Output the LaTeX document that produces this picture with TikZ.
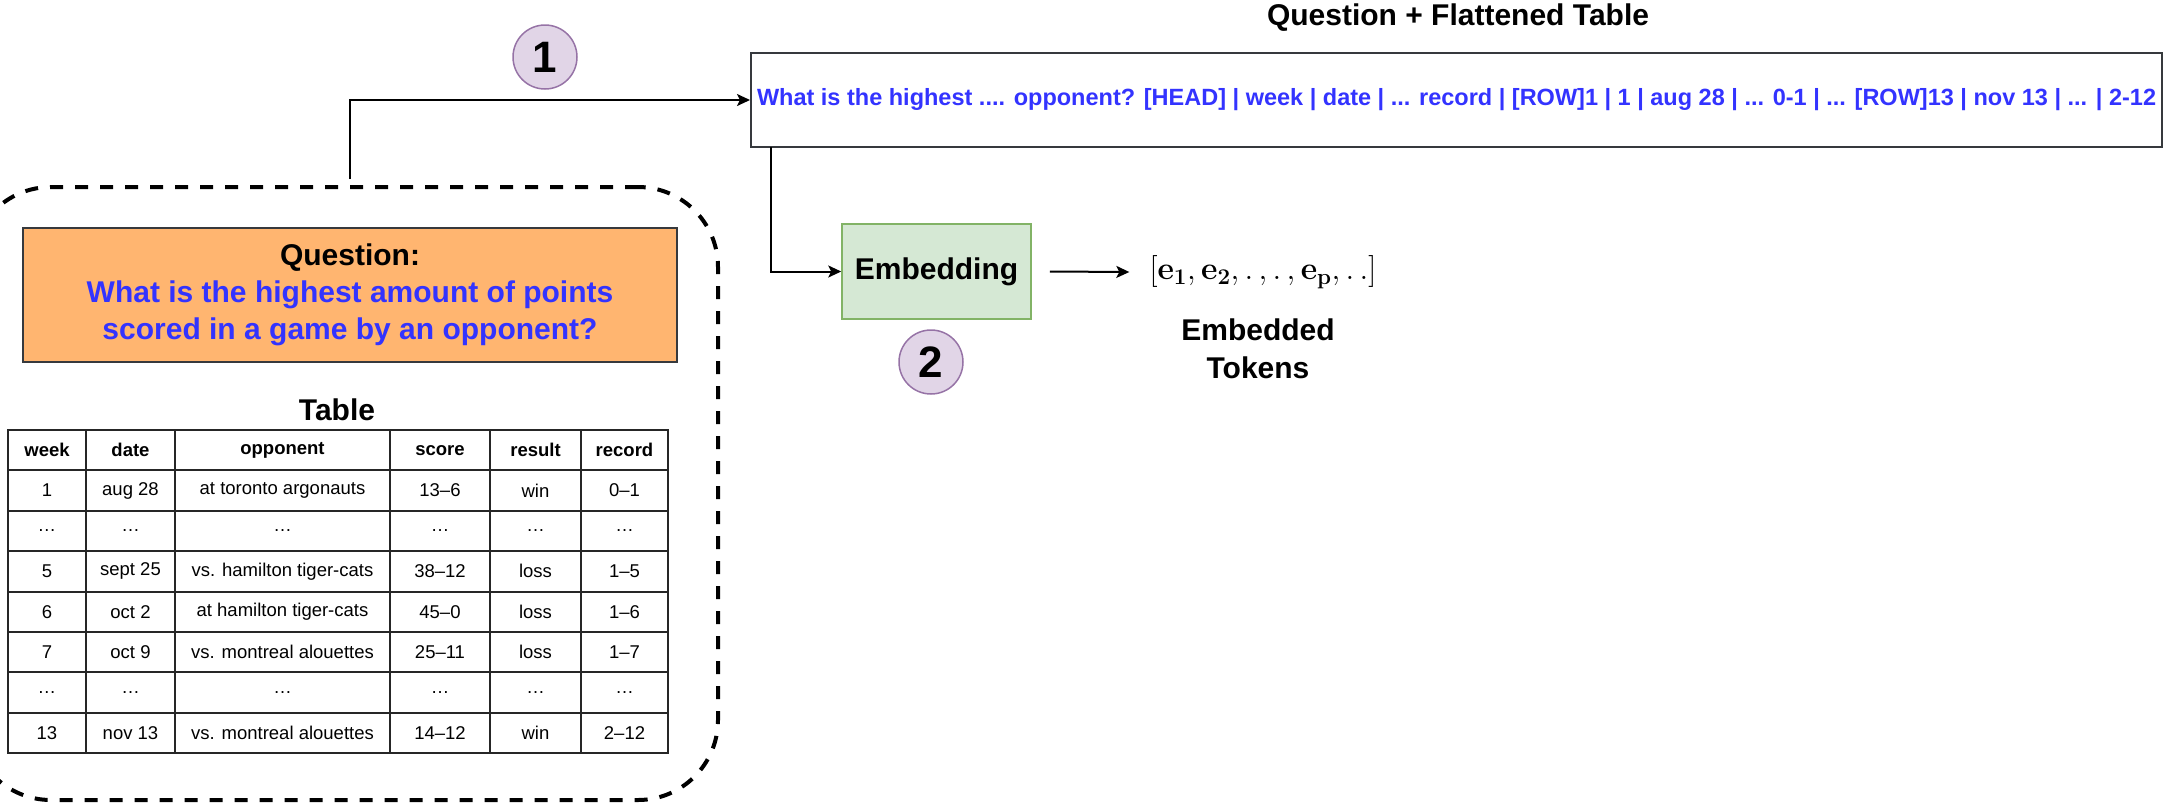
\RequirePackage{fix-cm}
\documentclass[tikz,border=0pt]{standalone}
\usepackage[no-math]{fontspec}
\setmainfont{Liberation Sans}
\usetikzlibrary{arrows.meta}
\definecolor{textblue}{HTML}{3333FF}
\definecolor{quesfill}{HTML}{FFB570}
\definecolor{boxline}{HTML}{36393D}
\definecolor{embfill}{HTML}{D5E8D4}
\definecolor{embline}{HTML}{82B366}
\definecolor{stepfill}{HTML}{E1D5E7}
\definecolor{stepline}{HTML}{9673A6}
\newcommand{\pxfont}[2]{\fontsize{#1}{#2}\selectfont}
\begin{document}
\begin{tikzpicture}[x=1pt,y=1pt]
\tikzstyle{every node}+=[inner sep=0pt]
\tikzset{
  arr/.style={black,line width=2pt,-{Stealth[length=13pt,width=12pt,inset=3pt]}},
  boldtext/.style={font=\bfseries\pxfont{30}{38},align=center},
  grpbox/.style={draw=black,line width=4pt,dash pattern=on 13pt off 12pt,rounded corners=80pt},
  quesbox/.style={draw=boxline,fill=quesfill,line width=1.5pt,font=\bfseries\pxfont{30}{37},align=center},
  flatbox/.style={draw=boxline,fill=white,line width=2pt,font=\bfseries\pxfont{23.5}{28},text=textblue},
  embbox/.style={draw=embline,fill=embfill,line width=1.5pt,font=\bfseries\pxfont{30}{30}},
  stepnum/.style={circle,draw=stepline,fill=stepfill,line width=1.5pt,minimum size=64pt,font=\bfseries\pxfont{44}{44}},
  tabline/.style={draw=black!85,line width=2pt,line cap=rect},
  tabcell/.style={font=\pxfont{18.5}{18.5}}
}
\useasboundingbox (0,0) rectangle (2164,-807);

% question and table group
\node[grpbox,minimum width=747pt,minimum height=613pt] (grp) at (344.5,-493.5) {};
\node[quesbox,minimum width=654pt,minimum height=134pt] (ques) at (350,-295)
  {Question:\\\textcolor{textblue}{What is the highest amount of points}\\\textcolor{textblue}{scored in a game by an opponent?}};

% table
\node[boldtext] (tabtitle) at (337,-410) {Table};
\foreach \x in {8,86,175,390,490,581,668}
  \draw[tabline] (\x,-430) -- (\x,-753);
\foreach \i in {0,...,8}
  \draw[tabline] (8,{-430-40.375*\i}) -- (668,{-430-40.375*\i});
\foreach \x/\t [count=\c] in {47/week,130.5/date,282.5/opponent,440/score,535.5/result,624.5/record}
  \node[tabcell,font=\bfseries\pxfont{18.5}{18.5}] (h\c) at (\x,-450.2) {\t};
\foreach \r/\a/\b/\cc/\d/\e/\f in {1/1/aug 28/at toronto argonauts/13–6/win/0–1,
    2/…/…/…/…/…/…,
    3/5/sept 25/vs. hamilton tiger-cats/38–12/loss/1–5,
    4/6/oct 2/at hamilton tiger-cats/45–0/loss/1–6,
    5/7/oct 9/vs. montreal alouettes/25–11/loss/1–7,
    6/…/…/…/…/…/…,
    7/13/nov 13/vs. montreal alouettes/14–12/win/2–12} {
  \node[tabcell] (r\r-1) at (47,{-450.2-40.375*\r}) {\a};
  \node[tabcell] (r\r-2) at (130.5,{-450.2-40.375*\r}) {\b};
  \node[tabcell] (r\r-3) at (282.5,{-450.2-40.375*\r}) {\cc};
  \node[tabcell] (r\r-4) at (440,{-450.2-40.375*\r}) {\d};
  \node[tabcell] (r\r-5) at (535.5,{-450.2-40.375*\r}) {\e};
  \node[tabcell] (r\r-6) at (624.5,{-450.2-40.375*\r}) {\f};
}

% flattened input
\node[boldtext] (flattitle) at (1458,-18) {Question + Flattened Table};
\node[flatbox,minimum width=1411pt,minimum height=94pt] (flat) at (1456.5,-100)
  {What is the highest .... opponent? [HEAD] | week | date | ... record | [ROW]1 | 1 | aug 28 | ... 0-1 | ... [ROW]13 | nov 13 | ... | 2-12};
\node[stepnum] (s1) at (545,-57) {1};

% embedding
\node[embbox,minimum width=189pt,minimum height=95pt] (emb) at (936.5,-271.5) {Embedding};
\node[stepnum] (s2) at (931,-362) {2};
\node (tok) at (1263,-272)
  {\pxfont{32}{32}$[\mathbf{e}_\mathbf{1}, \mathbf{e}_\mathbf{2}, \mathbf{.}\,, \mathbf{.}\,, \mathbf{e}_\mathbf{p}, \mathbf{.\,.}]$};
\node[boldtext] (toklbl) at (1258,-349) {Embedded\\Tokens};

% connectors
\coordinate (qout) at (350,-179);
\draw[arr] (qout) |- (flat.west);
\coordinate (flatdrop) at (771,-147);
\draw[arr] (flatdrop) |- (emb.west);
\draw[arr] ([xshift=18pt]emb.east) -- ([xshift=-20pt]tok.west);
\end{tikzpicture}
\end{document}
